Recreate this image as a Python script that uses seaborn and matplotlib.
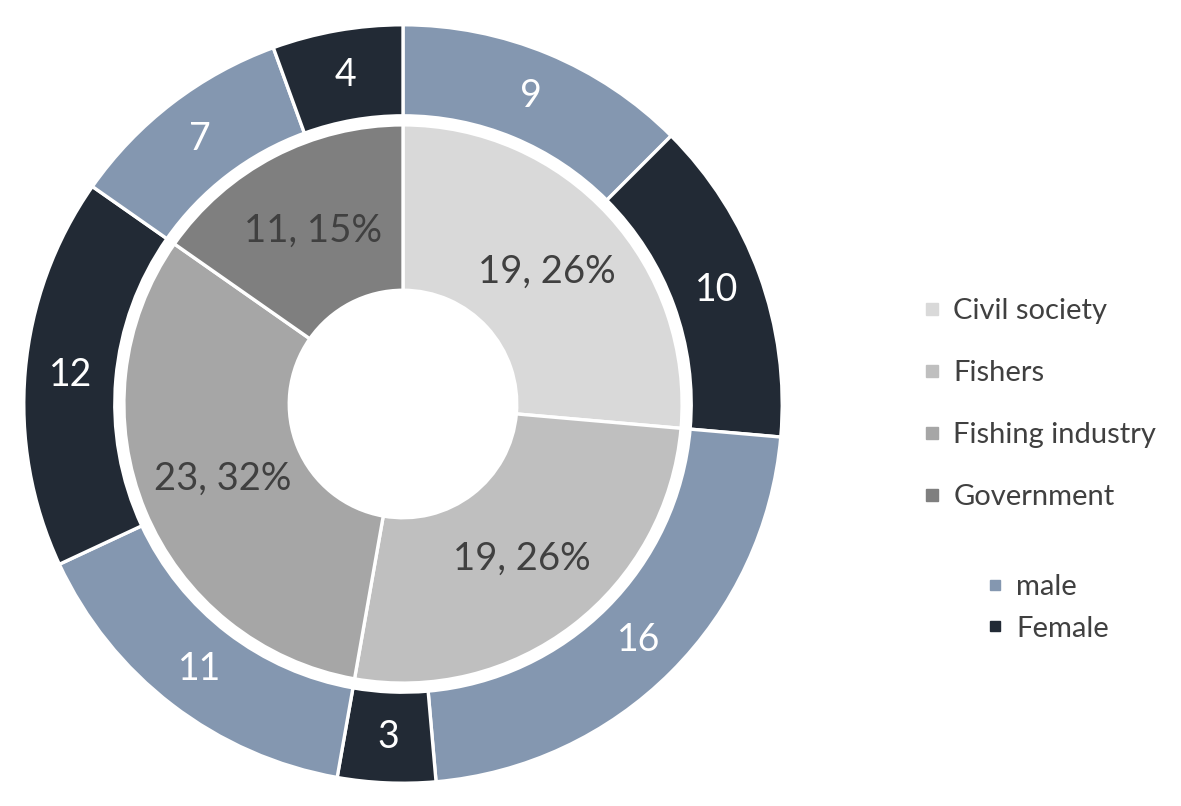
import matplotlib
matplotlib.use('Agg')
import matplotlib.pyplot as plt
from matplotlib.lines import Line2D
import seaborn as sns

# data
groups = ['Civil society', 'Fishers', 'Fishing industry', 'Government']
group_counts = [19, 19, 23, 11]
genders = ['male', 'Female']
male_counts = [9, 16, 11, 7]
female_counts = [10, 3, 12, 4]

group_colors = ['#d9d9d9', '#bfbfbf', '#a6a6a6', '#7f7f7f']
gender_colors = ['#8497b0', '#222a35']

sns.set_style('white')
plt.rcParams['font.family'] = ['Lato', 'DejaVu Sans']

W, H = 1181, 806
fig = plt.figure(figsize=(W / 100, H / 100), dpi=100)
# pie centre at (403, 404) px, outer radius 383 px
cx, cy, R = 403, 404, 383
ax = fig.add_axes([(cx - R) / W, (H - cy - R) / H, 2 * R / W, 2 * R / H])

# outer ring: male/female per group
outer_vals = []
outer_cols = []
for m, f in zip(male_counts, female_counts):
    outer_vals += [m, f]
    outer_cols += gender_colors
outer_total = sum(outer_vals)

wedges_o, texts_o, auto_o = ax.pie(
    outer_vals, radius=1.0, colors=outer_cols, startangle=90, counterclock=False,
    wedgeprops=dict(width=0.24, edgecolor='white', linewidth=2.4),
    autopct=lambda p: f'{round(p * outer_total / 100)}', pctdistance=0.88,
    textprops=dict(color='white', fontsize=27))

# inner ring: stakeholder groups
inner_total = sum(group_counts)
wedges_i, texts_i, auto_i = ax.pie(
    group_counts, radius=0.736, colors=group_colors, startangle=90, counterclock=False,
    wedgeprops=dict(width=0.436, edgecolor='white', linewidth=2.4),
    autopct=lambda p: f'{round(p * inner_total / 100)}, {round(p)}%', pctdistance=0.70,
    textprops=dict(color='#404040', fontsize=27.5))

ax.set_xlim(-1.01, 1.01)
ax.set_ylim(-1.01, 1.01)
ax.set_aspect('equal')
ax.axis('off')

# legends
fs = 21
h1 = [Line2D([], [], marker='s', linestyle='', markersize=8,
             markerfacecolor=c, markeredgecolor=c) for c in group_colors]
leg1 = fig.legend(h1, groups, loc='center left',
                  bbox_to_anchor=(924 / W, (H - 404) / H),
                  frameon=False, fontsize=fs, handlelength=0.55, handletextpad=0.45,
                  labelspacing=1.23, borderpad=0, borderaxespad=0,
                  labelcolor='#404040')

h2 = [Line2D([], [], marker='s', linestyle='', markersize=7,
             markerfacecolor=c, markeredgecolor=c) for c in gender_colors]
leg2 = fig.legend(h2, genders, loc='center left',
                  bbox_to_anchor=(987 / W, (H - 608) / H),
                  frameon=False, fontsize=fs, handlelength=0.55, handletextpad=0.45,
                  labelspacing=0.52, borderpad=0, borderaxespad=0,
                  labelcolor='#404040')

fig.savefig('out.png', dpi=100, facecolor='white')
